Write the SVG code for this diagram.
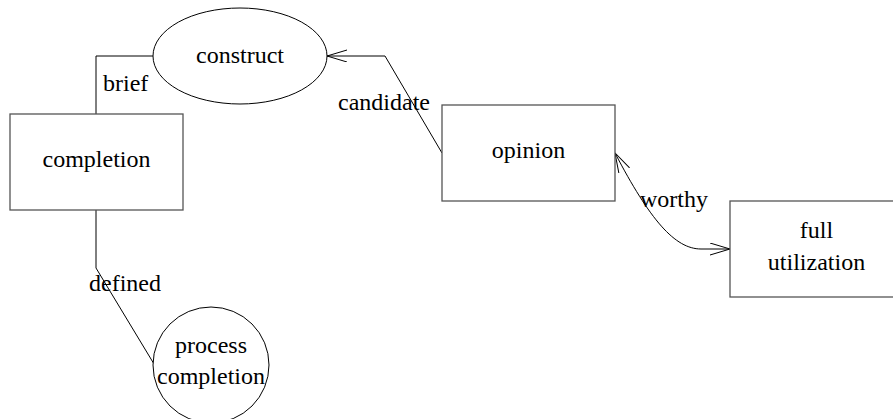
<svg xmlns="http://www.w3.org/2000/svg" width="893" height="419" viewBox="0 0 893 419">
<style>
text{font-family:"Liberation Serif","Times New Roman",serif;font-size:24px;fill:#000}
.c{text-anchor:middle}
.box{fill:#fff;stroke:#555;stroke-width:1.3}
.oval{fill:#fff;stroke:#000;stroke-width:1}
.edge{fill:none;stroke:#000;stroke-width:1}
</style>
<defs>
<marker id="arr" markerWidth="24" markerHeight="14" refX="20" refY="6" orient="auto-start-reverse" markerUnits="userSpaceOnUse">
<path d="M0,0 L20,6 L0,12" fill="none" stroke="#000" stroke-width="1"/>
</marker>
</defs>
<rect width="893" height="419" fill="#fff"/>
<g id="connectors">
<path class="edge" d="M153,56 L96,56 L96,114"/>
<path class="edge" d="M442,153 L385,56 L327,56" marker-end="url(#arr)"/>
<path class="edge" d="M615,153 C650,220 675,249 701,249 L730,249" marker-start="url(#arr)" marker-end="url(#arr)"/>
<path class="edge" d="M96,210 L96,268 L154,364"/>
<text x="103" y="91">brief</text>
<text x="338" y="110">candidate</text>
<text x="640" y="207">worthy</text>
<text x="89" y="291">defined</text>
</g>
<g id="construct">
<ellipse class="oval" cx="240" cy="56" rx="87" ry="48"/>
<text class="c" x="240" y="63">construct</text>
</g>
<g id="completion">
<rect class="box" x="10" y="114" width="173" height="96"/>
<text class="c" x="96.5" y="167">completion</text>
</g>
<g id="opinion">
<rect class="box" x="442" y="105" width="173" height="96"/>
<text class="c" x="528.5" y="158">opinion</text>
</g>
<g id="full_utilization">
<rect class="box" x="730" y="201" width="173" height="96"/>
<text class="c" x="816.5" y="238">full</text>
<text class="c" x="816.5" y="270">utilization</text>
</g>
<g id="process_completion">
<circle class="oval" cx="211" cy="365" r="58"/>
<text class="c" x="211" y="353">process</text>
<text class="c" x="211" y="384">completion</text>
</g>
</svg>
